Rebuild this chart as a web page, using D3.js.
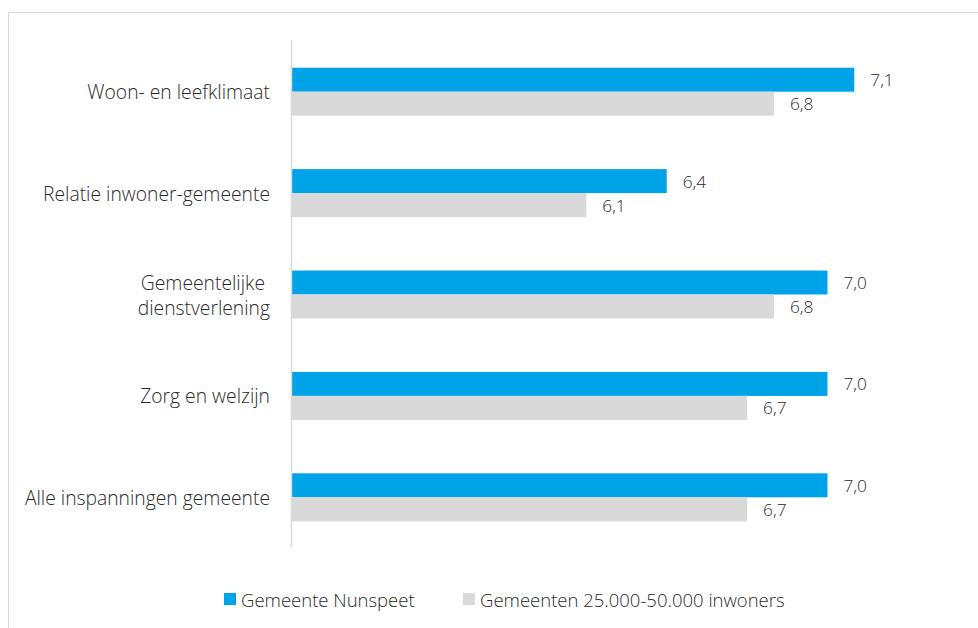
<!DOCTYPE html>
<html><head><meta charset="utf-8">
<script src="https://cdn.jsdelivr.net/npm/d3@7"></script>
<style>body{margin:0;background:#fff}svg{display:block}text{font-family:"Open Sans",Lato,sans-serif;font-weight:300;fill:#2b2b2b}</style>
</head><body><svg id="c" width="978" height="628"></svg>
<script>
const categories = [["Woon- en leefklimaat"],["Relatie inwoner-gemeente"],["Gemeentelijke ","dienstverlening"],["Zorg en welzijn"],["Alle inspanningen gemeente"]];
const seriesNames = ["Gemeente Nunspeet","Gemeenten 25.000-50.000 inwoners"];
const nunspeet = [7.1, 6.4, 7.0, 7.0, 7.0];
const referentie = [6.8, 6.1, 6.8, 6.7, 6.7];
const colors = ["#00a3e8", "#d9d9d9"];

const svg = d3.select("#c");
svg.append("rect").attr("x",8.5).attr("y",12.5).attr("width",1000).attr("height",700)
  .attr("fill","none").attr("stroke","#d9d9d9").attr("stroke-width",1);

const x = d3.scaleLinear().domain([5, 7.5]).range([291.5, 961.5]);
const y = d3.scaleBand().domain(d3.range(categories.length)).range([41, 548]);
const bandInner = 48;
const sub = d3.scaleBand().domain([0,1]).range([0, bandInner]);

const series = [nunspeet, referentie];
const g = svg.append("g");
categories.forEach((cat, i) => {
  const top = y(i) + (y.bandwidth() - bandInner) / 2;
  series.forEach((s, j) => {
    g.append("rect").attr("x", x(5)).attr("y", top + sub(j))
      .attr("width", x(s[i]) - x(5)).attr("height", sub.bandwidth())
      .attr("fill", colors[j]);
    g.append("text").attr("x", x(s[i]) + 16).attr("y", top + sub(j) + sub.bandwidth()/2)
      .attr("dominant-baseline","central").attr("font-size",17.3)
      .text(d3.format(".1f")(s[i]).replace(".", ","));
  });
  const cy = y(i) + y.bandwidth()/2;
  const lh = 25;
  cat.forEach((line, k) => {
    g.append("text").attr("x", 270).attr("y", cy + (k - (cat.length-1)/2) * lh)
      .attr("text-anchor","end").attr("dominant-baseline","central")
      .attr("font-size",19.3).style("white-space","pre").text(line);
  });
});

svg.append("line").attr("x1", x(5)).attr("x2", x(5)).attr("y1", 40).attr("y2", 547)
  .attr("stroke","#d9d9d9").attr("stroke-width",1.5);

const legendX = [224, 463];
seriesNames.forEach((n, j) => {
  svg.append("rect").attr("x", legendX[j]).attr("y", 593).attr("width", 12).attr("height", 12).attr("fill", colors[j]);
  svg.append("text").attr("x", legendX[j] + 17).attr("y", 599).attr("dominant-baseline","central")
    .attr("font-size",18.5).text(n);
});
</script></body></html>
